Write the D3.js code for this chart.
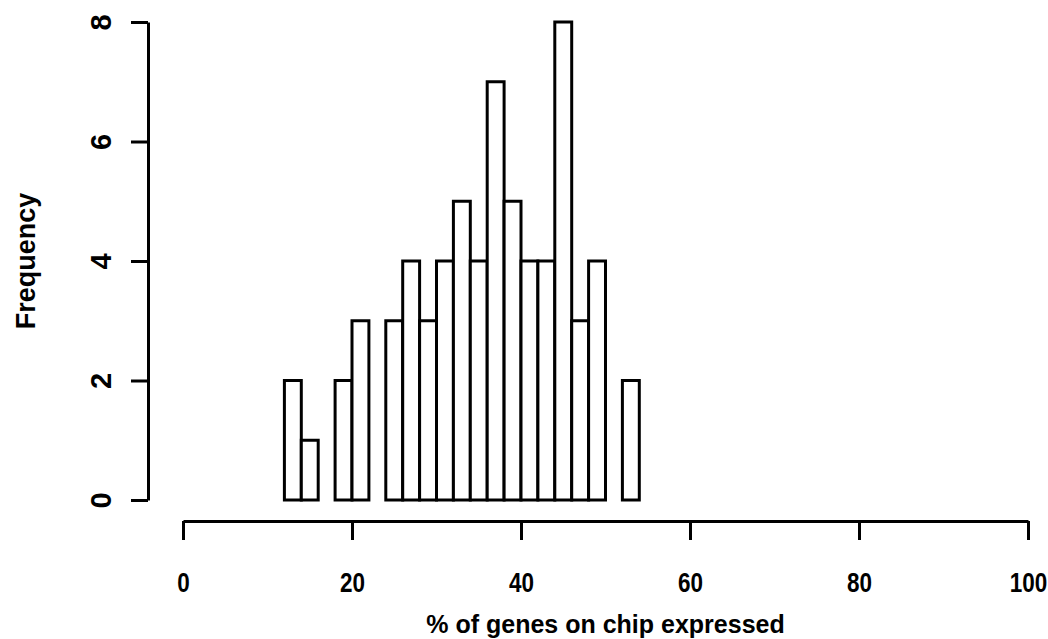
<!DOCTYPE html>
<html>
<head>
<meta charset="utf-8">
<script src="https://cdn.jsdelivr.net/npm/d3@7"></script>
<style>
  html, body { margin: 0; padding: 0; background: #fff; }
  svg text { font-family: "Liberation Sans", Arial, sans-serif; font-weight: bold; fill: #000; }
</style>
</head>
<body>
<svg id="chart" width="1048" height="639"></svg>
<script>
// Histogram bins (left edges, width 2) and counts
const binStarts = [12, 14, 16, 18, 20, 22, 24, 26, 28, 30, 32, 34, 36, 38, 40, 42, 44, 46, 48, 50, 52];
const binWidth = 2;
const counts = [2, 1, 0, 2, 3, 0, 3, 4, 3, 4, 5, 4, 7, 5, 4, 4, 8, 3, 4, 0, 2];
const xTicks = [0, 20, 40, 60, 80, 100];
const yTicks = [0, 2, 4, 6, 8];
const xTitle = "% of genes on chip expressed";
const yTitle = "Frequency";

const svg = d3.select("#chart");

const x = d3.scaleLinear().domain([0, 100]).range([183, 1028]);
const y = d3.scaleLinear().domain([0, 8]).range([500, 22]);

// bars
svg.append("g")
  .selectAll("rect")
  .data(binStarts.map((s, i) => ({ s, c: counts[i] })))
  .join("rect")
  .attr("x", d => x(d.s))
  .attr("width", d => x(d.s + binWidth) - x(d.s))
  .attr("y", d => y(d.c))
  .attr("height", d => y(0) - y(d.c))
  .attr("fill", "#fff")
  .attr("stroke", "#000")
  .attr("stroke-width", 3);

// x axis (condensed numerals)
const gx = svg.append("g")
  .attr("transform", "translate(0,521)")
  .call(d3.axisBottom(x).tickValues(xTicks).tickSize(19).tickSizeOuter(0).tickFormat(""));
gx.select(".domain").attr("stroke-width", 3);
gx.selectAll(".tick line").attr("stroke-width", 3);
gx.selectAll(".tick").append("text")
  .attr("y", 62)
  .attr("dy", "0.35em")
  .attr("text-anchor", "middle")
  .style("font-size", "27px")
  .attr("lengthAdjust", "spacingAndGlyphs")
  .attr("textLength", d => 12.5 * String(d).length)
  .text(d => d3.format("d")(d));

// y axis
const gy = svg.append("g")
  .attr("transform", "translate(148,0)")
  .call(d3.axisLeft(y).tickValues(yTicks).tickSize(17).tickSizeOuter(0).tickFormat(""));
gy.select(".domain").attr("stroke-width", 3);
gy.selectAll(".tick line").attr("stroke-width", 3);
gy.selectAll(".tick").append("text")
  .attr("transform", "translate(-47,0) rotate(-90)")
  .attr("dy", "0.35em")
  .attr("text-anchor", "middle")
  .style("font-size", "29px")
  .text(d => d);

// axis titles
svg.append("text")
  .attr("x", (x(0) + x(100)) / 2)
  .attr("y", 633)
  .attr("text-anchor", "middle")
  .style("font-size", "25px")
  .text(xTitle);

svg.append("text")
  .attr("transform", `translate(35,${(y(0) + y(8)) / 2}) rotate(-90)`)
  .attr("text-anchor", "middle")
  .style("font-size", "27px")
  .text(yTitle);
</script>
</body>
</html>
